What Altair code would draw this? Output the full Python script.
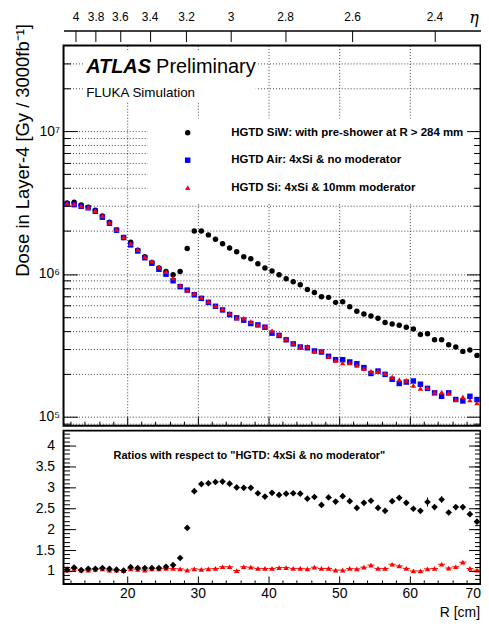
import math
import altair as alt
import pandas as pd

FONT = "Liberation Sans"

# ---------------- data ----------------
R_CM = [11.5, 12.5, 13.5, 14.5, 15.5, 16.5, 17.5, 18.5, 19.5, 20.5,
        21.5, 22.5, 23.5, 24.5, 25.5, 26.5, 27.5, 28.5, 29.5, 30.5,
        31.5, 32.5, 33.5, 34.5, 35.5, 36.5, 37.5, 38.5, 39.5, 40.5,
        41.5, 42.5, 43.5, 44.5, 45.5, 46.5, 47.5, 48.5, 49.5, 50.5,
        51.5, 52.5, 53.5, 54.5, 55.5, 56.5, 57.5, 58.5, 59.5, 60.5,
        61.5, 62.5, 63.5, 64.5, 65.5, 66.5, 67.5, 68.5, 69.5]

DOSE_SIW = [3.15e6, 3.18e6, 3.04e6, 2.94e6, 2.80e6, 2.55e6, 2.31e6, 2.03e6, 1.80e6, 1.67e6,
            1.47e6, 1.32e6, 1.20e6, 1.10e6, 1.04e6, 0.99e6, 1.04e6, 1.51e6, 2.00e6, 2.00e6,
            1.88e6, 1.75e6, 1.63e6, 1.52e6, 1.43e6, 1.32e6, 1.28e6, 1.18e6, 1.10e6, 1.05e6,
            9.87e5, 9.25e5, 8.82e5, 8.41e5, 7.80e5, 7.43e5, 6.93e5, 6.86e5, 6.33e5, 6.40e5,
            5.90e5, 5.48e5, 5.25e5, 5.08e5, 4.90e5, 4.57e5, 4.47e5, 4.38e5, 4.24e5, 4.12e5,
            3.77e5, 3.81e5, 3.46e5, 3.46e5, 3.19e5, 3.08e5, 2.87e5, 2.93e5, 2.69e5]

DOSE_AIR = [3.10e6, 3.06e6, 2.98e6, 2.91e6, 2.75e6, 2.50e6, 2.27e6, 2.03e6, 1.80e6, 1.60e6,
            1.45e6, 1.30e6, 1.19e6, 1.08e6, 9.97e5, 8.97e5, 8.16e5, 7.71e5, 7.16e5, 6.75e5,
            6.33e5, 5.94e5, 5.60e5, 5.20e5, 4.93e5, 4.75e5, 4.50e5, 4.40e5, 4.24e5, 3.85e5,
            3.71e5, 3.46e5, 3.24e5, 3.08e5, 3.04e5, 2.89e5, 2.84e5, 2.65e5, 2.51e5, 2.51e5,
            2.42e5, 2.35e5, 2.21e5, 2.01e5, 2.09e5, 1.98e5, 1.83e5, 1.71e5, 1.75e5, 1.78e5,
            1.69e5, 1.58e5, 1.47e5, 1.39e5, 1.47e5, 1.32e5, 1.29e5, 1.39e5, 1.32e5]

DOSE_SI = [3.12e6, 3.10e6, 3.00e6, 2.92e6, 2.78e6, 2.55e6, 2.30e6, 2.05e6, 1.82e6, 1.63e6,
           1.48e6, 1.32e6, 1.23e6, 1.12e6, 1.04e6, 9.40e5, 8.28e5, 7.71e5, 7.31e5, 6.86e5,
           6.43e5, 5.99e5, 5.69e5, 5.31e5, 4.92e5, 4.90e5, 4.64e5, 4.43e5, 4.29e5, 4.02e5,
           3.77e5, 3.51e5, 3.28e5, 3.11e5, 3.11e5, 2.89e5, 2.89e5, 2.65e5, 2.48e5, 2.38e5,
           2.38e5, 2.29e5, 2.17e5, 2.09e5, 2.09e5, 2.01e5, 1.90e5, 1.82e5, 1.80e5, 1.66e5,
           1.58e5, 1.60e5, 1.49e5, 1.49e5, 1.47e5, 1.32e5, 1.38e5, 1.31e5, 1.25e5]

RATIO_SIW = [1.03, 1.08, 1.02, 1.05, 1.05, 1.07, 1.05, 1.03, 1.01, 1.09,
             1.07, 1.07, 1.07, 1.07, 1.10, 1.14, 1.31, 2.03, 2.91, 3.08,
             3.10, 3.13, 3.14, 3.09, 3.00, 2.99, 2.99, 2.86, 2.78, 2.87,
             2.82, 2.85, 2.86, 2.85, 2.73, 2.77, 2.58, 2.76, 2.66, 2.79,
             2.67, 2.51, 2.63, 2.68, 2.51, 2.44, 2.67, 2.75, 2.63, 2.49,
             2.44, 2.65, 2.53, 2.71, 2.40, 2.53, 2.53, 2.36, 2.18]

RATIO_SIW_ERR = [0.02, 0.02, 0.02, 0.02, 0.02, 0.02, 0.02, 0.02, 0.02, 0.02,
                 0.02, 0.02, 0.02, 0.02, 0.02, 0.02, 0.02, 0.03, 0.03, 0.03,
                 0.03, 0.03, 0.03, 0.03, 0.03, 0.03, 0.03, 0.03, 0.03, 0.03,
                 0.03, 0.03, 0.03, 0.03, 0.03, 0.03, 0.04, 0.04, 0.04, 0.04,
                 0.04, 0.04, 0.04, 0.04, 0.04, 0.04, 0.05, 0.05, 0.05, 0.05,
                 0.05, 0.11, 0.05, 0.08, 0.05, 0.05, 0.05, 0.06, 0.06]

RATIO_SI = [1.02, 1.06, 1.02, 1.02, 1.04, 1.05, 1.02, 1.02, 1.01, 1.05,
            1.04, 1.02, 1.05, 1.05, 1.06, 1.06, 1.05, 1.02, 1.05, 1.04,
            1.05, 1.06, 1.10, 1.10, 1.01, 1.10, 1.09, 1.06, 1.06, 1.06,
            1.08, 1.08, 1.06, 1.06, 1.05, 1.09, 1.06, 1.06, 1.02, 1.02,
            1.06, 1.05, 1.09, 1.14, 1.06, 1.06, 1.16, 1.12, 1.06, 1.00,
            1.00, 1.05, 1.06, 1.16, 1.07, 1.10, 1.21, 1.06, 1.02]

SERIES = ["HGTD SiW: with pre-shower at R > 284 mm",
          "HGTD Air: 4xSi & no moderator",
          "HGTD Si: 4xSi & 10mm moderator"]
COLORS = ["#000000", "#0000ff", "#ff0000"]
SHAPES = ["circle", "square", "triangle-up"]

ETA_TICKS = [4.0, 3.8, 3.6, 3.4, 3.2, 3.0, 2.8, 2.6, 2.4]
ETA_LABELS = ["4", "3.8", "3.6", "3.4", "3.2", "3", "2.8", "2.6", "2.4"]
Z_LAYER_CM = 347.0

X_MAJOR = [20, 30, 40, 50, 60, 70]
X_MINOR = [12, 14, 16, 18, 22, 24, 26, 28, 32, 34, 36, 38, 42, 44, 46, 48,
           52, 54, 56, 58, 62, 64, 66, 68]
DOSE_MAJOR = [1e5, 1e6, 1e7]
DOSE_MINOR = [9e4] + [m * 10 ** e for e in (5, 6) for m in range(2, 10)] + [2e7, 3e7]
RATIO_MAJOR = [1, 1.5, 2, 2.5, 3, 3.5, 4]
RATIO_MINOR = [round(0.7 + 0.1 * i, 1) for i in range(37)]

X_DOMAIN = [11, 70]
DOSE_DOMAIN = [8.66e4, 3.99e7]
RATIO_DOMAIN = [0.69, 4.36]

Y_TITLE = "Dose in Layer-4 [Gy / 3000fb\u207b\u00b9]"
RATIO_TEXT = 'Ratios with respect to "HGTD: 4xSi & no moderator"'

PLOT_W = 419

# ---------------- tables ----------------
n = len(R_CM)
dose_df = pd.DataFrame({
    "R": R_CM * 3,
    "dose": DOSE_SIW + DOSE_AIR + DOSE_SI,
    "series": [SERIES[0]] * n + [SERIES[1]] * n + [SERIES[2]] * n,
})
ratio_df = pd.DataFrame({"R": R_CM, "siw": RATIO_SIW, "err": RATIO_SIW_ERR, "si": RATIO_SI})
ratio_df["lo"] = ratio_df["R"] - 0.5
ratio_df["hi"] = ratio_df["R"] + 0.5
ratio_df["elo"] = ratio_df["siw"] - ratio_df["err"]
ratio_df["ehi"] = ratio_df["siw"] + ratio_df["err"]

eta_r = [round(Z_LAYER_CM * math.tan(2 * math.atan(math.exp(-e))), 3) for e in ETA_TICKS]
eta_expr = " : ".join(f"abs(datum.value - {p}) < 0.01 ? '{lab}'" for p, lab in zip(eta_r, ETA_LABELS)) + " : ''"

xs = alt.Scale(domain=X_DOMAIN, nice=False, zero=False)
ys_top = alt.Scale(type="log", domain=DOSE_DOMAIN, nice=False)
ys_bot = alt.Scale(domain=RATIO_DOMAIN, nice=False, zero=False)


def tick_axis(orient, values, size, **kw):
    base = dict(orient=orient, values=values, tickSize=size, offset=-size, domain=False,
                labels=False, grid=False, ticks=True, tickColor="black", tickWidth=1,
                title=None, zindex=1)
    base.update(kw)
    return alt.Axis(**base)


GRID = dict(grid=True, gridColor="#000000", gridDash=[1, 2], gridOpacity=0.75, gridWidth=1,
            ticks=False, labels=False, domain=False, title=None, zindex=0)

# ---------------- top panel ----------------
grid_layer = alt.Chart(dose_df).mark_point(opacity=0).encode(
    x=alt.X("R:Q", scale=xs, axis=alt.Axis(orient="bottom", values=X_MAJOR, **GRID)),
    y=alt.Y("dose:Q", scale=ys_top, axis=alt.Axis(orient="left", values=DOSE_MINOR + DOSE_MAJOR, **GRID)),
)

box_df = pd.DataFrame({"x1": [13.9, 22.9], "x2": [38.2, 69.1], "y1": [3.6e7, 1.23e7], "y2": [1.59e7, 3.15e6]})
boxes = alt.Chart(box_df).mark_rect(color="white").encode(
    x=alt.X("x1:Q", scale=xs, axis=None), x2="x2:Q",
    y=alt.Y("y1:Q", scale=ys_top, axis=None), y2="y2:Q",
)

atlas = alt.Chart(pd.DataFrame({"x": [14.2], "y": [2.54e7], "t": ["ATLAS"]})).mark_text(
    align="left", baseline="alphabetic", font=FONT, fontSize=20, fontWeight="bold",
    fontStyle="italic", color="black").encode(
    x=alt.X("x:Q", scale=xs, axis=None), y=alt.Y("y:Q", scale=ys_top, axis=None), text="t:N")
prelim = alt.Chart(pd.DataFrame({"x": [24.1], "y": [2.54e7], "t": ["Preliminary"]})).mark_text(
    align="left", baseline="alphabetic", font=FONT, fontSize=20, color="black").encode(
    x=alt.X("x:Q", scale=xs, axis=None), y=alt.Y("y:Q", scale=ys_top, axis=None), text="t:N")
fluka = alt.Chart(pd.DataFrame({"x": [14.2], "y": [1.73e7], "t": ["FLUKA Simulation"]})).mark_text(
    align="left", baseline="alphabetic", font=FONT, fontSize=13.5, color="black").encode(
    x=alt.X("x:Q", scale=xs, axis=None), y=alt.Y("y:Q", scale=ys_top, axis=None), text="t:N")

legend = alt.Legend(orient="none", legendX=119, legendY=82, title=None, labelFont=FONT,
                    labelFontSize=11.5, labelFontWeight="bold", labelColor="black",
                    symbolSize=30, labelOffset=38, rowPadding=14.5, labelLimit=400,
                    padding=0, symbolStrokeWidth=0)

points = alt.Chart(dose_df).mark_point(filled=True, opacity=1, size=30).encode(
    x=alt.X("R:Q", scale=xs, axis=tick_axis("bottom", X_MAJOR, 9)),
    y=alt.Y("dose:Q", scale=ys_top, axis=tick_axis(
        "left", DOSE_MAJOR, 14, labels=True,
        labelExpr="'10' + (datum.value < 5e5 ? '\u2075' : datum.value < 5e6 ? '\u2076' : '\u2077')",
        labelFontSize=14, labelPadding=4, title=Y_TITLE, titleFontSize=18.5,
        titleFontWeight="normal", titleX=-49.3, titleY=-22, titleAlign="right",
        titleBaseline="alphabetic")),
    color=alt.Color("series:N", scale=alt.Scale(domain=SERIES, range=COLORS), legend=legend),
    shape=alt.Shape("series:N", scale=alt.Scale(domain=SERIES, range=SHAPES), legend=legend),
)

guide_top = alt.Chart(dose_df).mark_point(opacity=0)
minor_top = guide_top.encode(
    x=alt.X("R:Q", scale=xs, axis=tick_axis("bottom", X_MINOR, 4.5)),
    y=alt.Y("dose:Q", scale=ys_top, axis=tick_axis("left", DOSE_MINOR, 7)),
)
eta_top = guide_top.encode(
    x=alt.X("R:Q", scale=xs, axis=alt.Axis(
        orient="top", values=eta_r, offset=4, tickSize=11, tickColor="black", tickWidth=1,
        domain=False, labels=True, labelExpr=eta_expr, labelFontSize=12, labelPadding=10,
        labelBaseline="alphabetic", labelFlush=False, grid=False, title=None, zindex=1)),
    y=alt.Y("dose:Q", scale=ys_top, axis=tick_axis("right", DOSE_MAJOR, 14)),
)
eta_line = guide_top.encode(
    x=alt.X("R:Q", scale=xs, axis=alt.Axis(
        orient="top", offset=15, domain=True, domainColor="black", domainWidth=1.5,
        ticks=False, labels=False, grid=False, title="\u03b7", titleFont="DejaVu Serif",
        titleFontStyle="italic", titleFontSize=16, titleFontWeight="normal",
        titleX=PLOT_W - 7, titleY=-8, titleAlign="center", titleBaseline="alphabetic", zindex=1)),
    y=alt.Y("dose:Q", scale=ys_top, axis=tick_axis("right", DOSE_MINOR, 7)),
)

top = alt.layer(grid_layer, boxes, atlas, prelim, fluka, points, minor_top, eta_top, eta_line).resolve_axis(
    x="independent", y="independent").properties(width=PLOT_W, height=382)

# ---------------- ratio panel ----------------
rbase = alt.Chart(ratio_df)
red_bars = rbase.mark_rule(color="#ff0000", strokeWidth=1).encode(
    x=alt.X("lo:Q", scale=xs, axis=None), x2="hi:Q",
    y=alt.Y("si:Q", scale=ys_bot, axis=None))
red_pts = rbase.mark_point(shape="triangle-up", filled=True, opacity=1, size=30, color="#ff0000").encode(
    x=alt.X("R:Q", scale=xs, axis=None), y=alt.Y("si:Q", scale=ys_bot, axis=None))
blk_err = rbase.mark_rule(color="black", strokeWidth=1).encode(
    x=alt.X("R:Q", scale=xs, axis=None),
    y=alt.Y("elo:Q", scale=ys_bot, axis=None), y2="ehi:Q")
blk_pts = rbase.mark_point(shape="diamond", filled=True, opacity=1, size=45, color="black").encode(
    x=alt.X("R:Q", scale=xs, axis=tick_axis(
        "bottom", X_MAJOR, 8, labels=True, format="d", labelFontSize=14, labelPadding=3,
        title="R [cm]", titleFontSize=14, titleFontWeight="normal", titleX=PLOT_W - 1, titleY=40.5,
        titleAlign="right", titleBaseline="alphabetic")),
    y=alt.Y("siw:Q", scale=ys_bot, axis=tick_axis(
        "left", RATIO_MAJOR, 12, labels=True, format="~g", labelFontSize=14, labelPadding=9)),
)
guide_bot = rbase.mark_point(opacity=0)
minor_bot = guide_bot.encode(
    x=alt.X("R:Q", scale=xs, axis=tick_axis("bottom", X_MINOR, 4)),
    y=alt.Y("siw:Q", scale=ys_bot, axis=tick_axis("left", RATIO_MINOR, 6)),
)
right_major = guide_bot.encode(
    x=alt.X("R:Q", scale=xs, axis=None),
    y=alt.Y("siw:Q", scale=ys_bot, axis=tick_axis("right", RATIO_MAJOR, 12)),
)
right_minor = guide_bot.encode(
    x=alt.X("R:Q", scale=xs, axis=None),
    y=alt.Y("siw:Q", scale=ys_bot, axis=tick_axis("right", RATIO_MINOR, 6)),
)
ratio_note = alt.Chart(pd.DataFrame({"x": [18.08], "y": [3.67], "t": [RATIO_TEXT]})).mark_text(
    align="left", baseline="alphabetic", font=FONT, fontSize=11, fontWeight="bold", color="black").encode(
    x=alt.X("x:Q", scale=xs, axis=None), y=alt.Y("y:Q", scale=ys_bot, axis=None), text="t:N")

bottom = alt.layer(red_bars, red_pts, blk_err, blk_pts, minor_bot, right_major, right_minor, ratio_note).resolve_axis(
    x="independent", y="independent").properties(width=PLOT_W, height=154)

chart = alt.vconcat(top, bottom, spacing=2).properties(
    padding={"left": 3.8, "top": -0.8, "right": -1.5, "bottom": -1.5}
).configure(font=FONT).configure_view(stroke="black", strokeWidth=2).configure_axis(
    labelColor="black", labelFont=FONT, titleColor="black", titleFont=FONT)

chart.save("out.html", embed_options={"renderer": "svg", "actions": False})
